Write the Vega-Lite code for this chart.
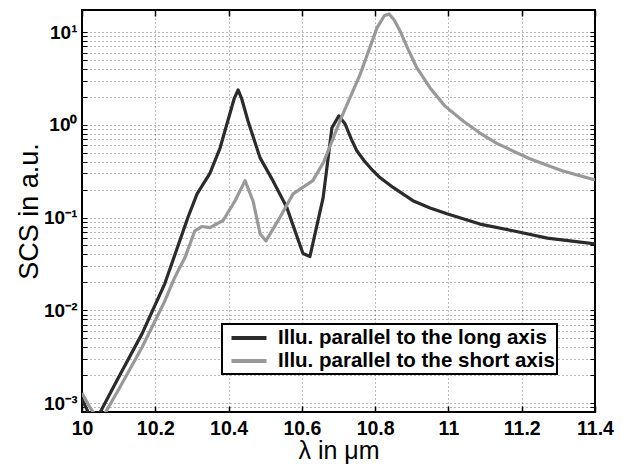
{
  "$schema": "https://vega.github.io/schema/vega-lite/v6.json",
  "width": 513,
  "height": 402,
  "autosize": "none",
  "padding": {"left": 82, "top": 10, "right": 28, "bottom": 54},
  "background": "white",
  "config": {
    "view": {"stroke": "#000", "strokeWidth": 2},
    "font": "Liberation Sans",
    "legend": {"strokeWidth": 2}
  },
  "data": {
    "values": [
      {"wl": 10.00, "scs": 0.0011, "series": "Illu. parallel to the long axis"},
      {"wl": 10.03, "scs": 0.00062, "series": "Illu. parallel to the long axis"},
      {"wl": 10.05, "scs": 0.0008, "series": "Illu. parallel to the long axis"},
      {"wl": 10.10, "scs": 0.0019, "series": "Illu. parallel to the long axis"},
      {"wl": 10.164, "scs": 0.0056, "series": "Illu. parallel to the long axis"},
      {"wl": 10.226, "scs": 0.0194, "series": "Illu. parallel to the long axis"},
      {"wl": 10.289, "scs": 0.10, "series": "Illu. parallel to the long axis"},
      {"wl": 10.314, "scs": 0.18, "series": "Illu. parallel to the long axis"},
      {"wl": 10.349, "scs": 0.30, "series": "Illu. parallel to the long axis"},
      {"wl": 10.377, "scs": 0.565, "series": "Illu. parallel to the long axis"},
      {"wl": 10.415, "scs": 1.9, "series": "Illu. parallel to the long axis"},
      {"wl": 10.426, "scs": 2.38, "series": "Illu. parallel to the long axis"},
      {"wl": 10.436, "scs": 1.9, "series": "Illu. parallel to the long axis"},
      {"wl": 10.453, "scs": 1.1, "series": "Illu. parallel to the long axis"},
      {"wl": 10.486, "scs": 0.44, "series": "Illu. parallel to the long axis"},
      {"wl": 10.521, "scs": 0.25, "series": "Illu. parallel to the long axis"},
      {"wl": 10.559, "scs": 0.128, "series": "Illu. parallel to the long axis"},
      {"wl": 10.603, "scs": 0.041, "series": "Illu. parallel to the long axis"},
      {"wl": 10.622, "scs": 0.038, "series": "Illu. parallel to the long axis"},
      {"wl": 10.658, "scs": 0.163, "series": "Illu. parallel to the long axis"},
      {"wl": 10.682, "scs": 0.93, "series": "Illu. parallel to the long axis"},
      {"wl": 10.701, "scs": 1.25, "series": "Illu. parallel to the long axis"},
      {"wl": 10.718, "scs": 1.02, "series": "Illu. parallel to the long axis"},
      {"wl": 10.735, "scs": 0.70, "series": "Illu. parallel to the long axis"},
      {"wl": 10.75, "scs": 0.525, "series": "Illu. parallel to the long axis"},
      {"wl": 10.77, "scs": 0.41, "series": "Illu. parallel to the long axis"},
      {"wl": 10.794, "scs": 0.32, "series": "Illu. parallel to the long axis"},
      {"wl": 10.813, "scs": 0.27, "series": "Illu. parallel to the long axis"},
      {"wl": 10.85, "scs": 0.21, "series": "Illu. parallel to the long axis"},
      {"wl": 10.903, "scs": 0.152, "series": "Illu. parallel to the long axis"},
      {"wl": 10.95, "scs": 0.127, "series": "Illu. parallel to the long axis"},
      {"wl": 10.996, "scs": 0.11, "series": "Illu. parallel to the long axis"},
      {"wl": 11.086, "scs": 0.085, "series": "Illu. parallel to the long axis"},
      {"wl": 11.176, "scs": 0.072, "series": "Illu. parallel to the long axis"},
      {"wl": 11.27, "scs": 0.06, "series": "Illu. parallel to the long axis"},
      {"wl": 11.40, "scs": 0.052, "series": "Illu. parallel to the long axis"},

      {"wl": 10.00, "scs": 0.00128, "series": "Illu. parallel to the short axis"},
      {"wl": 10.02, "scs": 0.00092, "series": "Illu. parallel to the short axis"},
      {"wl": 10.04, "scs": 0.0007, "series": "Illu. parallel to the short axis"},
      {"wl": 10.063, "scs": 0.00078, "series": "Illu. parallel to the short axis"},
      {"wl": 10.10, "scs": 0.0014, "series": "Illu. parallel to the short axis"},
      {"wl": 10.164, "scs": 0.0040, "series": "Illu. parallel to the short axis"},
      {"wl": 10.226, "scs": 0.0126, "series": "Illu. parallel to the short axis"},
      {"wl": 10.254, "scs": 0.0230, "series": "Illu. parallel to the short axis"},
      {"wl": 10.281, "scs": 0.037, "series": "Illu. parallel to the short axis"},
      {"wl": 10.308, "scs": 0.072, "series": "Illu. parallel to the short axis"},
      {"wl": 10.327, "scs": 0.080, "series": "Illu. parallel to the short axis"},
      {"wl": 10.349, "scs": 0.078, "series": "Illu. parallel to the short axis"},
      {"wl": 10.385, "scs": 0.093, "series": "Illu. parallel to the short axis"},
      {"wl": 10.417, "scs": 0.15, "series": "Illu. parallel to the short axis"},
      {"wl": 10.445, "scs": 0.25, "series": "Illu. parallel to the short axis"},
      {"wl": 10.467, "scs": 0.15, "series": "Illu. parallel to the short axis"},
      {"wl": 10.486, "scs": 0.067, "series": "Illu. parallel to the short axis"},
      {"wl": 10.502, "scs": 0.056, "series": "Illu. parallel to the short axis"},
      {"wl": 10.54, "scs": 0.10, "series": "Illu. parallel to the short axis"},
      {"wl": 10.576, "scs": 0.18, "series": "Illu. parallel to the short axis"},
      {"wl": 10.63, "scs": 0.25, "series": "Illu. parallel to the short axis"},
      {"wl": 10.66, "scs": 0.40, "series": "Illu. parallel to the short axis"},
      {"wl": 10.704, "scs": 1.1, "series": "Illu. parallel to the short axis"},
      {"wl": 10.759, "scs": 3.5, "series": "Illu. parallel to the short axis"},
      {"wl": 10.805, "scs": 11.1, "series": "Illu. parallel to the short axis"},
      {"wl": 10.825, "scs": 15.0, "series": "Illu. parallel to the short axis"},
      {"wl": 10.838, "scs": 15.7, "series": "Illu. parallel to the short axis"},
      {"wl": 10.852, "scs": 13.5, "series": "Illu. parallel to the short axis"},
      {"wl": 10.868, "scs": 10.3, "series": "Illu. parallel to the short axis"},
      {"wl": 10.89, "scs": 6.5, "series": "Illu. parallel to the short axis"},
      {"wl": 10.914, "scs": 4.1, "series": "Illu. parallel to the short axis"},
      {"wl": 10.95, "scs": 2.5, "series": "Illu. parallel to the short axis"},
      {"wl": 10.99, "scs": 1.6, "series": "Illu. parallel to the short axis"},
      {"wl": 11.04, "scs": 1.1, "series": "Illu. parallel to the short axis"},
      {"wl": 11.085, "scs": 0.82, "series": "Illu. parallel to the short axis"},
      {"wl": 11.132, "scs": 0.63, "series": "Illu. parallel to the short axis"},
      {"wl": 11.222, "scs": 0.43, "series": "Illu. parallel to the short axis"},
      {"wl": 11.31, "scs": 0.32, "series": "Illu. parallel to the short axis"},
      {"wl": 11.40, "scs": 0.255, "series": "Illu. parallel to the short axis"}
    ]
  },
  "resolve": {"axis": {"x": "independent", "y": "independent"}},
  "layer": [
    {
      "mark": {"type": "line", "clip": true, "strokeWidth": 3.2, "strokeJoin": "round"},
      "encoding": {
        "x": {
          "field": "wl", "type": "quantitative",
          "scale": {"domain": [10, 11.4], "nice": false, "zero": false},
          "axis": {
            "orient": "bottom",
            "values": [10, 10.2, 10.4, 10.6, 10.8, 11, 11.2, 11.4],
            "format": "~g",
            "title": "λ in μm",
            "titleFont": "Liberation Sans", "titleFontSize": 25, "titleFontWeight": "normal", "titleColor": "#000",
            "titleBaseline": "alphabetic",
            "titlePadding": 21,
            "labelFont": "Liberation Sans", "labelFontSize": 19.5, "labelFontWeight": "bold", "labelColor": "#000",
            "labelPadding": 13, "labelFlush": false,
            "domain": false,
            "tickSize": -6, "tickColor": "#000", "tickWidth": 1.5,
            "grid": true, "gridColor": "#000", "gridDash": [1, 3], "gridOpacity": 0.5, "gridWidth": 1
          }
        },
        "y": {
          "field": "scs", "type": "quantitative",
          "scale": {"type": "log", "domain": [0.0008, 17.3], "nice": false},
          "axis": {
            "orient": "left",
            "values": [0.0009, 0.001, 0.002, 0.003, 0.004, 0.005, 0.006, 0.007, 0.008, 0.009, 0.01, 0.02, 0.03, 0.04, 0.05, 0.06, 0.07, 0.08, 0.09, 0.1, 0.2, 0.3, 0.4, 0.5, 0.6, 0.7, 0.8, 0.9, 1, 2, 3, 4, 5, 6, 7, 8, 9, 10],
            "labelExpr": "datum.value == 10 ? '10¹' : datum.value == 1 ? '10⁰' : datum.value == 0.1 ? '10⁻¹' : datum.value == 0.01 ? '10⁻²' : datum.value == 0.001 ? '10⁻³' : ''",
            "title": "SCS in a.u.",
            "titleFont": "Liberation Sans", "titleFontSize": 27, "titleFontWeight": "normal", "titleColor": "#000",
            "titlePadding": 0,
            "labelFont": "Liberation Sans", "labelFontSize": 19, "labelFontWeight": "bold", "labelColor": "#000",
            "labelPadding": 10,
            "domain": false,
            "tickSize": -5, "tickColor": "#000", "tickWidth": 1,
            "grid": true, "gridColor": "#000", "gridDash": [1, 3], "gridOpacity": 0.55, "gridWidth": 1
          }
        },
        "color": {
          "field": "series", "type": "nominal",
          "scale": {"domain": ["Illu. parallel to the long axis", "Illu. parallel to the short axis"], "range": ["#2b2b2b", "#999999"]},
          "legend": {
            "orient": "none", "legendX": 140, "legendY": 314,
            "title": null,
            "symbolType": "M-1.75,0L1.75,0", "symbolSize": 400, "symbolStrokeWidth": 4,
            "symbolOffset": 13, "labelOffset": 17,
            "labelFont": "Liberation Sans", "labelFontSize": 20.5, "labelFontWeight": "bold", "labelColor": "#000",
            "labelLimit": 400,
            "rowPadding": -6,
            "padding": 2,
            "strokeColor": "#000", "fillColor": "white"
          }
        }
      }
    },
    {
      "mark": {"type": "line", "opacity": 0},
      "encoding": {
        "detail": {"field": "series"},
        "x": {
          "field": "wl", "type": "quantitative",
          "axis": {
            "orient": "top", "values": [10, 10.2, 10.4, 10.6, 10.8, 11, 11.2, 11.4],
            "labels": false, "title": null, "domain": false, "grid": false,
            "tickSize": -6, "tickColor": "#000", "tickWidth": 1.5
          }
        },
        "y": {
          "field": "scs", "type": "quantitative",
          "axis": {
            "orient": "right",
            "values": [0.0009, 0.001, 0.002, 0.003, 0.004, 0.005, 0.006, 0.007, 0.008, 0.009, 0.01, 0.02, 0.03, 0.04, 0.05, 0.06, 0.07, 0.08, 0.09, 0.1, 0.2, 0.3, 0.4, 0.5, 0.6, 0.7, 0.8, 0.9, 1, 2, 3, 4, 5, 6, 7, 8, 9, 10],
            "labels": false, "title": null, "domain": false, "grid": false,
            "tickSize": -5, "tickColor": "#000", "tickWidth": 1
          }
        }
      }
    }
  ]
}
